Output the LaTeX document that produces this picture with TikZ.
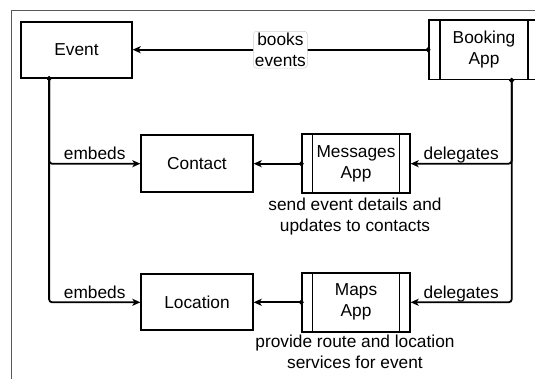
\documentclass[tikz,border=0pt]{standalone}
\usepackage{fontspec}
\setmainfont{Liberation Sans}
\usetikzlibrary{arrows.meta}
\begin{document}
\begin{tikzpicture}[x=1pt,y=-1pt,
  font=\fontsize{17.3}{21}\selectfont,
  entity/.style={draw, line width=1.8pt, inner sep=0pt, align=center},
  bar/.style={line width=1.6pt},
  conn/.style={line width=1.8pt, rounded corners=3pt,
    {Circle[length=4.5pt]}-{Stealth[length=8pt,width=7pt,inset=2pt]},
    shorten <=-2.2pt},
  lbl/.style={anchor=base, inner sep=0pt},
  note/.style={align=center, inner sep=0pt}]
\useasboundingbox (0,0) rectangle (535,379);

% surrounding frame
\draw[black!65, line width=1pt] (11.7,379) -- (11.7,11) -- (535,11);

% data entities
\node[entity, minimum width=110.5pt, minimum height=56pt] (event) at (76.5,49.7) {Event};
\node[entity, minimum width=111.5pt, minimum height=57pt] (contact) at (197,163.7) {Contact};
\node[entity, minimum width=111.5pt, minimum height=56pt] (location) at (197,302.3) {Location};

% applications (boxes with side bars)
\node[entity, minimum width=110pt, minimum height=59.5pt] (booking) at (484,49.7) {Booking\\App};
\node[entity, minimum width=107.5pt, minimum height=59pt] (messages) at (356,163.7) {Messages\\App};
\node[entity, minimum width=107.5pt, minimum height=59pt] (maps) at (356,302.3) {Maps\\App};

\foreach \n/\d in {booking/12pt, messages/11pt, maps/11pt}{
  \draw[bar] ([xshift=\d]\n.north west) -- ([xshift=\d]\n.south west);
  \draw[bar] ([xshift=-\d]\n.north east) -- ([xshift=-\d]\n.south east);
}

% connectors
\draw[conn] (booking.west) -- (event.east)
  node[pos=0.5, fill=white, draw=black!18, line width=0.5pt, inner sep=1.5pt, align=center] (books) {books\\events};

\draw[conn] ([xshift=-27.4pt]event.south) |- (contact.west)
  node[lbl, pos=0.75, yshift=3.8pt] (emb1) {embeds};
\draw[conn] ([xshift=-27.4pt]event.south) |- (location.west)
  node[lbl, pos=0.75, yshift=3.8pt] (emb2) {embeds};

\draw[conn] ([xshift=27.7pt]booking.south) |- (messages.east)
  node[lbl, pos=0.75, yshift=3.8pt] (del1) {delegates};
\draw[conn] ([xshift=27.7pt]booking.south) |- (maps.east)
  node[lbl, pos=0.75, yshift=3.8pt] (del2) {delegates};

\draw[conn] (messages.west) -- (contact.east);
\draw[conn] (maps.west) -- (location.east);

% descriptions
\node[note] (msgnote) at (355,217) {send event details and\\updates to contacts};
\node[note] (mapnote) at (355,352) {provide route and location\\services for event};
\end{tikzpicture}
\end{document}
